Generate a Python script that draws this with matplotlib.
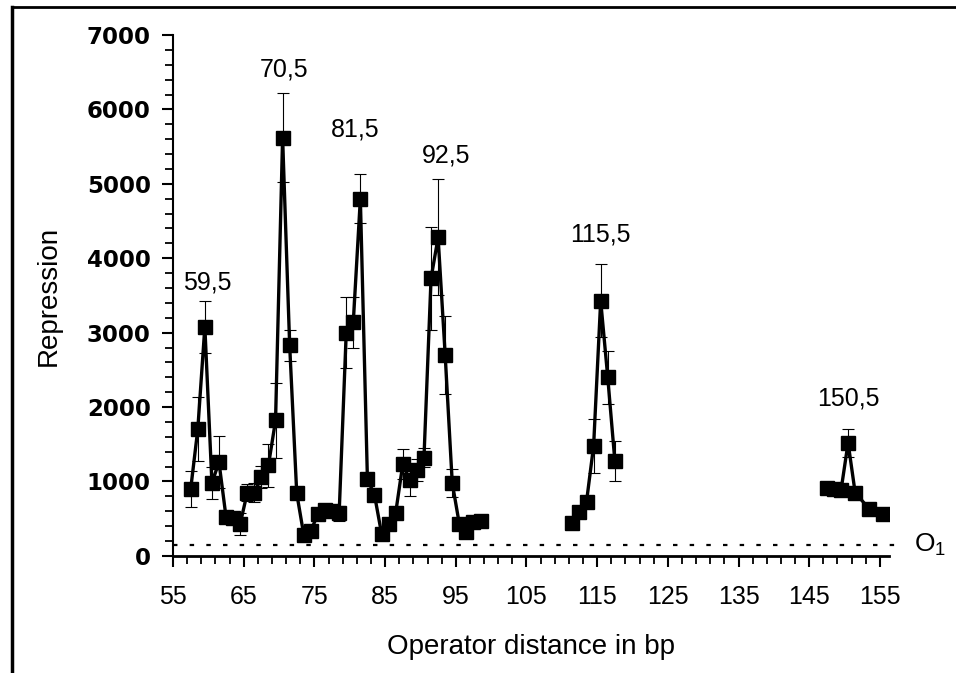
import numpy as np
import matplotlib
matplotlib.use("Agg")
import matplotlib.pyplot as plt
from matplotlib.lines import Line2D

# repression vs. operator distance, three groups of constructs
dist_a = [57.5, 58.5, 59.5, 60.5, 61.5, 62.5, 63.5, 64.5, 65.5, 66.5, 67.5, 68.5, 69.5, 70.5,
          71.5, 72.5, 73.5, 74.5, 75.5, 76.5, 77.5, 78.5, 79.5, 80.5, 81.5, 82.5, 83.5, 84.5,
          85.5, 86.5, 87.5, 88.5, 89.5, 90.5, 91.5, 92.5, 93.5, 94.5, 95.5, 96.5, 97.5, 98.5]
rep_a = [900, 1700, 3080, 980, 1260, 520, 510, 430, 850, 850, 1060, 1220, 1820, 5620,
         2830, 840, 280, 340, 560, 620, 600, 570, 3000, 3140, 4800, 1030, 820, 300,
         430, 580, 1230, 1020, 1150, 1320, 3730, 4280, 2700, 980, 430, 320, 460, 470]
err_a = [240, 430, 350, 220, 350, 60, 60, 150, 110, 130, 150, 290, 500, 600,
         210, 60, 40, 50, 80, 80, 60, 100, 480, 340, 330, 80, 60, 60,
         60, 60, 200, 210, 150, 130, 690, 780, 530, 190, 60, 60, 50, 40]

dist_b = [111.5, 112.5, 113.5, 114.5, 115.5, 116.5, 117.5]
rep_b = [440, 590, 730, 1480, 3430, 2400, 1280]
err_b = [40, 50, 80, 360, 490, 360, 270]

dist_c = [147.5, 148.5, 149.5, 150.5, 151.5, 153.5, 155.5]
rep_c = [910, 900, 880, 1520, 850, 630, 560]
err_c = [30, 40, 40, 190, 60, 30, 30]

# repression with the main operator O1 alone
o1_level = 150

# labelled maxima: position, label height
peak_pos = [59.5, 70.5, 81.5, 92.5, 115.5, 150.5]
peak_text = ["59,5", "70,5", "81,5", "92,5", "115,5", "150,5"]
peak_label_y = [3680, 6530, 5730, 5380, 4320, 2110]
peak_dx = [2, 1, -4, 6, 0, 0]  # small horizontal nudges in points

fig = plt.figure(figsize=(9.56, 6.73), dpi=100)
ax = fig.add_axes([0.181, 0.174, 0.749, 0.774])

for xs, ys, es in [(dist_a, rep_a, err_a), (dist_b, rep_b, err_b), (dist_c, rep_c, err_c)]:
    ax.errorbar(xs, ys, yerr=es, color="black", lw=2.4, marker="s", markersize=9.5,
                ecolor="black", elinewidth=0.8, capsize=4, capthick=0.8, zorder=3)

ax.plot([55, 158.5], [o1_level, o1_level], color="black", lw=1.6,
        linestyle=(0, (2, 5.5)), clip_on=False, zorder=2)
ax.text(159.8, o1_level, "O$_\\mathregular{1}$", fontsize=19, family="Liberation Sans",
        va="center", ha="left", clip_on=False)

for x, t, y, dx in zip(peak_pos, peak_text, peak_label_y, peak_dx):
    ax.annotate(t, (x, y), xytext=(dx, 0), textcoords="offset points",
                ha="center", va="center", fontsize=18, family="Liberation Sans")

ax.set_xlim(55, 156.3)
ax.set_ylim(0, 7000)
ax.set_xticks(np.arange(55, 156, 10))
ax.set_xticks(np.arange(55, 156, 2), minor=True)
ax.set_yticks(np.arange(0, 7001, 1000))
ax.set_yticks(np.arange(0, 7001, 200), minor=True)

for s in ["top", "right"]:
    ax.spines[s].set_visible(False)
ax.spines["left"].set_linewidth(1.5)
ax.spines["bottom"].set_linewidth(2)

ax.tick_params(axis="both", which="major", direction="out", length=8, width=1.5)
ax.tick_params(axis="both", which="minor", direction="out", length=6, width=1.3)
ax.tick_params(axis="x", which="major", pad=13)
ax.tick_params(axis="y", which="major", pad=8)

for lab in ax.get_xticklabels():
    lab.set_family("Liberation Sans")
    lab.set_fontsize(18)
for lab in ax.get_yticklabels():
    lab.set_family("DejaVu Sans")
    lab.set_fontweight("bold")
    lab.set_fontsize(16.5)

ax.set_xlabel("Operator distance in bp", fontsize=20, family="Liberation Sans", labelpad=18)
ax.set_ylabel("Repression", fontsize=20, family="Liberation Sans", labelpad=18)

# frame around the panel
fig.add_artist(Line2D([12 / 956, 1], [1 - 7 / 673, 1 - 7 / 673], color="black", lw=2,
                      transform=fig.transFigure))
fig.add_artist(Line2D([12 / 956, 12 / 956], [0, 1 - 7 / 673], color="black", lw=2.5,
                      transform=fig.transFigure))

fig.savefig("out.png", dpi=100, facecolor="white")
